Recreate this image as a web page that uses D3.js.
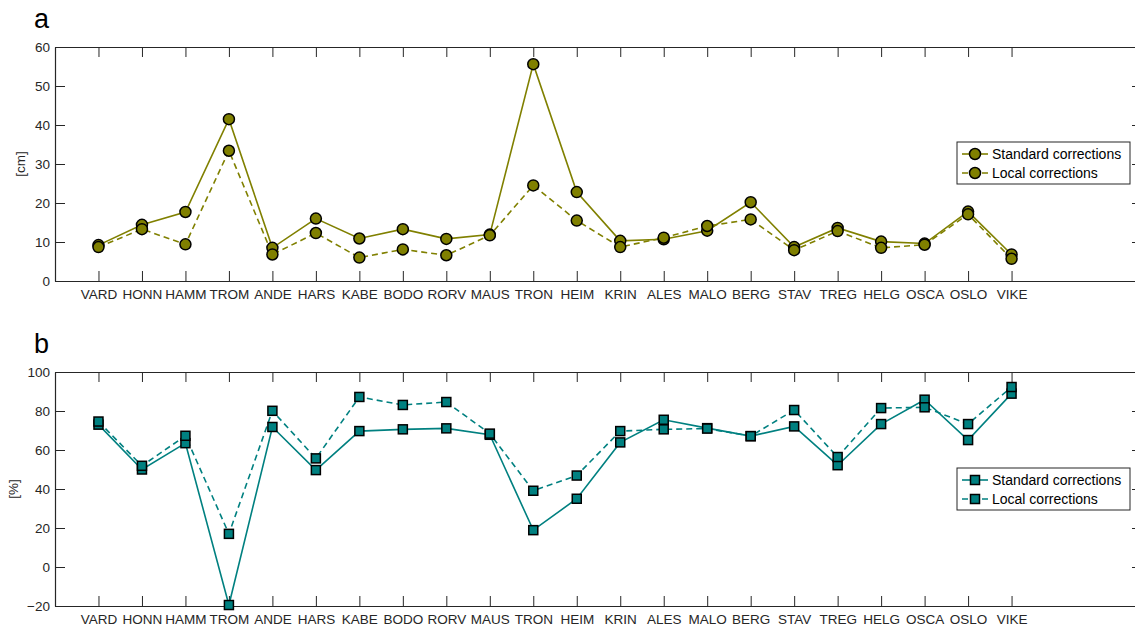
<!DOCTYPE html>
<html>
<head>
<meta charset="utf-8">
<script src="https://cdn.jsdelivr.net/npm/d3@7"></script>
<style>
  body { margin: 0; background: #fff; }
  svg { font-family: "Liberation Sans", Arial, sans-serif; }
  .axis text { font-size: 13.5px; fill: #262626; }
  .axis line, .axis path { stroke: #262626; }
</style>
</head>
<body>
<div id="chart"></div>
<script>
// stations along the coast
stations = ["VARD","HONN","HAMM","TROM","ANDE","HARS","KABE","BODO","RORV","MAUS","TRON",
  "HEIM","KRIN","ALES","MALO","BERG","STAV","TREG","HELG","OSCA","OSLO","VIKE"]

// panel a, [cm]
stdCm = [9.2, 14.4, 17.7, 41.5, 8.5, 16.0, 10.9, 13.3, 10.8, 11.9, 55.6,
  22.8, 10.3, 10.7, 12.9, 20.2, 8.7, 13.6, 10.1, 9.6, 17.8, 6.8]
locCm = [8.7, 13.3, 9.4, 33.4, 6.8, 12.3, 6.0, 8.1, 6.6, 11.7, 24.5,
  15.5, 8.7, 11.1, 14.1, 15.8, 7.9, 12.8, 8.5, 9.3, 17.1, 5.7]
cmTicks = [0, 10, 20, 30, 40, 50, 60]

// panel b, [%]
stdPct = [73.0, 50.0, 63.5, -19.5, 71.8, 49.7, 69.7, 70.6, 71.1, 67.8, 18.9,
  35.0, 63.9, 75.5, 71.2, 67.1, 72.1, 52.2, 73.3, 85.8, 65.1, 88.9]
locPct = [74.6, 51.9, 67.3, 17.0, 80.1, 55.7, 87.2, 83.1, 84.6, 68.4, 39.1,
  46.9, 69.7, 70.6, 71.0, 67.1, 80.5, 56.4, 81.5, 81.9, 73.3, 92.3]
pctTicks = [-20, 0, 20, 40, 60, 80, 100]

seriesNames = ["Standard corrections", "Local corrections"]

const W = 1135, H = 627
const svg = d3.select("#chart").append("svg").attr("width", W).attr("height", H)

const x = d3.scaleLinear().domain([0, 25]).range([55, 1142])

function drawPanel(opt) {
  const y = d3.scaleLinear().domain(opt.domain).range([opt.bottom, opt.top])
  const g = svg.append("g")

  // axes, MATLAB style: ticks inward on all four sides
  g.append("g").attr("class", "axis")
    .attr("transform", `translate(0,${opt.bottom})`)
    .call(d3.axisBottom(x).tickValues(d3.range(1, stations.length + 1))
      .tickFormat(i => stations[i - 1]).tickSize(-10).tickSizeOuter(0).tickPadding(8))
  g.append("g").attr("class", "axis")
    .attr("transform", `translate(0,${opt.top})`)
    .call(d3.axisTop(x).tickValues(d3.range(1, stations.length + 1))
      .tickFormat("").tickSize(-10).tickSizeOuter(0))
  g.append("g").attr("class", "axis")
    .attr("transform", `translate(${x.range()[0]},0)`)
    .call(d3.axisLeft(y).tickValues(opt.ticks).tickSize(-10).tickSizeOuter(0).tickPadding(5))
  g.append("g").attr("class", "axis")
    .attr("transform", `translate(${x.range()[1]},0)`)
    .call(d3.axisRight(y).tickValues(opt.ticks).tickFormat("").tickSize(-10).tickSizeOuter(0))
  g.selectAll(".axis .domain").attr("stroke-width", 1.2)

  // y label
  g.append("text")
    .attr("transform", `translate(${opt.ylabX},${(opt.top + opt.bottom) / 2}) rotate(-90)`)
    .attr("text-anchor", "middle")
    .style("font-size", "13.5px").attr("fill", "#262626")
    .text(opt.ylabel)

  // panel letter
  g.append("text").attr("x", 34).attr("y", opt.top - 19)
    .style("font-size", "27px").attr("fill", "#000").text(opt.letter)

  const line = d3.line().x((d, i) => x(i + 1)).y(d => y(d))
  const sets = [opt.std, opt.loc]
  sets.forEach((vals, k) => {
    g.append("path").datum(vals)
      .attr("fill", "none").attr("stroke", opt.color).attr("stroke-width", 1.6)
      .attr("stroke-dasharray", k == 1 ? "6,4" : null)
      .attr("d", line)
  })
  // markers after both lines
  sets.forEach((vals) => {
    vals.forEach((v, i) => drawMarker(g, x(i + 1), y(v), opt.marker, opt.color))
  })

  // legend
  const lg = g.append("g").attr("transform", `translate(957,${opt.legTop})`)
  lg.append("rect").attr("width", 173).attr("height", 42)
    .attr("fill", "#fff").attr("stroke", "#262626").attr("stroke-width", 1)
  seriesNames.forEach((name, k) => {
    const yy = 12 + k * 19
    lg.append("line").attr("x1", 5).attr("x2", 31).attr("y1", yy).attr("y2", yy)
      .attr("stroke", opt.color).attr("stroke-width", 1.6)
      .attr("stroke-dasharray", k == 1 ? "6,4" : null)
    drawMarker(lg, 18, yy, opt.marker, opt.color)
    lg.append("text").attr("x", 35).attr("y", yy).attr("dy", "0.35em")
      .style("font-size", "14px").attr("fill", "#000").text(name)
  })
}

function drawMarker(g, cx, cy, type, color) {
  if (type == "circle") {
    g.append("circle").attr("cx", cx).attr("cy", cy).attr("r", 5.5)
      .attr("fill", color).attr("stroke", "#000").attr("stroke-width", 1.5)
  } else {
    g.append("rect").attr("x", cx - 4.5).attr("y", cy - 4.5).attr("width", 9).attr("height", 9)
      .attr("fill", color).attr("stroke", "#000").attr("stroke-width", 1.5)
  }
}

drawPanel({ top: 47, bottom: 281, domain: [0, 60], ticks: cmTicks, std: stdCm, loc: locCm,
  color: "#808000", marker: "circle", ylabel: "[cm]", ylabX: 25, letter: "a", legTop: 142 })
drawPanel({ top: 372, bottom: 606, domain: [-20, 100], ticks: pctTicks, std: stdPct, loc: locPct,
  color: "#008080", marker: "square", ylabel: "[%]", ylabX: 18, letter: "b", legTop: 468 })
</script>
</body>
</html>
